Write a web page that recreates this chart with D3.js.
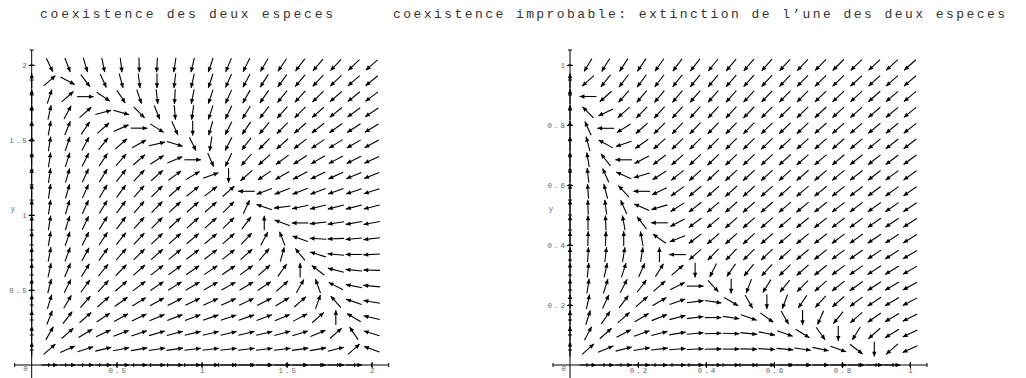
<!DOCTYPE html>
<html>
<head>
<meta charset="utf-8">
<script src="https://cdn.jsdelivr.net/npm/d3@7"></script>
<style>
  html, body { margin: 0; padding: 0; background: #fff; }
  svg { display: block; }
  .title { font-family: "Liberation Mono", "DejaVu Sans Mono", monospace; font-size: 13px; fill: #333; }
  .lbl { font-family: "Liberation Mono", "DejaVu Sans Mono", monospace; font-size: 7.5px; letter-spacing: 2px; fill: #666; }
</style>
</head>
<body>
<svg id="chart"></svg>
<script>
// titres
const titles = [
  'coexistence des deux especes',
  'coexistence improbable: extinction de l\u2019une des deux especes'
];

// points de grille (20 x 20) lus sur chaque graphe
const leftGrid = [0, 0.105, 0.211, 0.316, 0.421, 0.526, 0.632, 0.737, 0.842, 0.947,
  1.053, 1.158, 1.263, 1.368, 1.474, 1.579, 1.684, 1.789, 1.895, 2];
const rightGrid = [0, 0.053, 0.105, 0.158, 0.211, 0.263, 0.316, 0.368, 0.421, 0.474,
  0.526, 0.579, 0.632, 0.684, 0.737, 0.789, 0.842, 0.895, 0.947, 1];

// graduations
const leftTicks = [0.5, 1, 1.5, 2];
const rightTicks = [0.2, 0.4, 0.6, 0.8, 1];

// champ gauche: composantes (dx, dy) de chaque fleche, une ligne par rangee y (de bas en haut)
const leftU = [
  [0,54,102,144,180,210,234,252,264,270,270,264,252,234,210,180,144,102,54,0],
  [0,52,98,138,172,200,222,238,248,252,250,242,228,208,182,150,112,68,18,-38],
  [0,50,94,132,164,190,210,224,232,234,230,220,204,182,154,120,80,34,-18,-76],
  [0,48,90,126,156,180,198,210,216,216,210,198,180,156,126,90,48,0,-54,-114],
  [0,46,86,120,148,170,186,196,200,198,190,176,156,130,98,60,16,-34,-90,-152],
  [0,44,82,114,140,160,174,182,184,180,170,154,132,104,70,30,-16,-68,-126,-190],
  [0,42,78,108,132,150,162,168,168,162,150,132,108,78,42,0,-48,-102,-162,-228],
  [0,40,74,102,124,140,150,154,152,144,130,110,84,52,14,-30,-80,-136,-198,-266],
  [0,38,70,96,116,130,138,140,136,126,110,88,60,26,-14,-60,-112,-170,-234,-304],
  [0,36,66,90,108,120,126,126,120,108,90,66,36,0,-42,-90,-144,-204,-270,-342],
  [0,34,62,84,100,110,114,112,104,90,70,44,12,-26,-70,-120,-176,-238,-306,-380],
  [0,32,58,78,92,100,102,98,88,72,50,22,-12,-52,-98,-150,-208,-272,-342,-418],
  [0,30,54,72,84,90,90,84,72,54,30,0,-36,-78,-126,-180,-240,-306,-378,-456],
  [0,28,50,66,76,80,78,70,56,36,10,-22,-60,-104,-154,-210,-272,-340,-414,-494],
  [0,26,46,60,68,70,66,56,40,18,-10,-44,-84,-130,-182,-240,-304,-374,-450,-532],
  [0,24,42,54,60,60,54,42,24,0,-30,-66,-108,-156,-210,-270,-336,-408,-486,-570],
  [0,22,38,48,52,50,42,28,8,-18,-50,-88,-132,-182,-238,-300,-368,-442,-522,-608],
  [0,20,34,42,44,40,30,14,-8,-36,-70,-110,-156,-208,-266,-330,-400,-476,-558,-646],
  [0,18,30,36,36,30,18,0,-24,-54,-90,-132,-180,-234,-294,-360,-432,-510,-594,-684],
  [0,16,26,30,28,20,6,-14,-40,-72,-110,-154,-204,-260,-322,-390,-464,-544,-630,-722]
];
const leftV = [
  [0,0,0,0,0,0,0,0,0,0,0,0,0,0,0,0,0,0,0,0],
  [54,52,50,48,46,44,42,40,38,36,34,32,30,28,26,24,22,20,18,16],
  [102,98,94,90,86,82,78,74,70,66,62,58,54,50,46,42,38,34,30,26],
  [144,138,132,126,120,114,108,102,96,90,84,78,72,66,60,54,48,42,36,30],
  [180,172,164,156,148,140,132,124,116,108,100,92,84,76,68,60,52,44,36,28],
  [210,200,190,180,170,160,150,140,130,120,110,100,90,80,70,60,50,40,30,20],
  [234,222,210,198,186,174,162,150,138,126,114,102,90,78,66,54,42,30,18,6],
  [252,238,224,210,196,182,168,154,140,126,112,98,84,70,56,42,28,14,0,-14],
  [264,248,232,216,200,184,168,152,136,120,104,88,72,56,40,24,8,-8,-24,-40],
  [270,252,234,216,198,180,162,144,126,108,90,72,54,36,18,0,-18,-36,-54,-72],
  [270,250,230,210,190,170,150,130,110,90,70,50,30,10,-10,-30,-50,-70,-90,-110],
  [264,242,220,198,176,154,132,110,88,66,44,22,0,-22,-44,-66,-88,-110,-132,-154],
  [252,228,204,180,156,132,108,84,60,36,12,-12,-36,-60,-84,-108,-132,-156,-180,-204],
  [234,208,182,156,130,104,78,52,26,0,-26,-52,-78,-104,-130,-156,-182,-208,-234,-260],
  [210,182,154,126,98,70,42,14,-14,-42,-70,-98,-126,-154,-182,-210,-238,-266,-294,-322],
  [180,150,120,90,60,30,0,-30,-60,-90,-120,-150,-180,-210,-240,-270,-300,-330,-360,-390],
  [144,112,80,48,16,-16,-48,-80,-112,-144,-176,-208,-240,-272,-304,-336,-368,-400,-432,-464],
  [102,68,34,0,-34,-68,-102,-136,-170,-204,-238,-272,-306,-340,-374,-408,-442,-476,-510,-544],
  [54,18,-18,-54,-90,-126,-162,-198,-234,-270,-306,-342,-378,-414,-450,-486,-522,-558,-594,-630],
  [0,-38,-76,-114,-152,-190,-228,-266,-304,-342,-380,-418,-456,-494,-532,-570,-608,-646,-684,-722]
];

// champ droit
const rightU = [
  [0,18,34,48,60,70,78,84,88,90,90,88,84,78,70,60,48,34,18,0],
  [0,16,30,42,52,60,66,70,72,72,70,66,60,52,42,30,16,0,-18,-38],
  [0,14,26,36,44,50,54,56,56,54,50,44,36,26,14,0,-16,-34,-54,-76],
  [0,12,22,30,36,40,42,42,40,36,30,22,12,0,-14,-30,-48,-68,-90,-114],
  [0,10,18,24,28,30,30,28,24,18,10,0,-12,-26,-42,-60,-80,-102,-126,-152],
  [0,8,14,18,20,20,18,14,8,0,-10,-22,-36,-52,-70,-90,-112,-136,-162,-190],
  [0,6,10,12,12,10,6,0,-8,-18,-30,-44,-60,-78,-98,-120,-144,-170,-198,-228],
  [0,4,6,6,4,0,-6,-14,-24,-36,-50,-66,-84,-104,-126,-150,-176,-204,-234,-266],
  [0,2,2,0,-4,-10,-18,-28,-40,-54,-70,-88,-108,-130,-154,-180,-208,-238,-270,-304],
  [0,0,-2,-6,-12,-20,-30,-42,-56,-72,-90,-110,-132,-156,-182,-210,-240,-272,-306,-342],
  [0,-2,-6,-12,-20,-30,-42,-56,-72,-90,-110,-132,-156,-182,-210,-240,-272,-306,-342,-380],
  [0,-4,-10,-18,-28,-40,-54,-70,-88,-108,-130,-154,-180,-208,-238,-270,-304,-340,-378,-418],
  [0,-6,-14,-24,-36,-50,-66,-84,-104,-126,-150,-176,-204,-234,-266,-300,-336,-374,-414,-456],
  [0,-8,-18,-30,-44,-60,-78,-98,-120,-144,-170,-198,-228,-260,-294,-330,-368,-408,-450,-494],
  [0,-10,-22,-36,-52,-70,-90,-112,-136,-162,-190,-220,-252,-286,-322,-360,-400,-442,-486,-532],
  [0,-12,-26,-42,-60,-80,-102,-126,-152,-180,-210,-242,-276,-312,-350,-390,-432,-476,-522,-570],
  [0,-14,-30,-48,-68,-90,-114,-140,-168,-198,-230,-264,-300,-338,-378,-420,-464,-510,-558,-608],
  [0,-16,-34,-54,-76,-100,-126,-154,-184,-216,-250,-286,-324,-364,-406,-450,-496,-544,-594,-646],
  [0,-18,-38,-60,-84,-110,-138,-168,-200,-234,-270,-308,-348,-390,-434,-480,-528,-578,-630,-684],
  [0,-20,-42,-66,-92,-120,-150,-182,-216,-252,-290,-330,-372,-416,-462,-510,-560,-612,-666,-722]
];
const rightV = [
  [0,0,0,0,0,0,0,0,0,0,0,0,0,0,0,0,0,0,0,0],
  [18,16,14,12,10,8,6,4,2,0,-2,-4,-6,-8,-10,-12,-14,-16,-18,-20],
  [34,30,26,22,18,14,10,6,2,-2,-6,-10,-14,-18,-22,-26,-30,-34,-38,-42],
  [48,42,36,30,24,18,12,6,0,-6,-12,-18,-24,-30,-36,-42,-48,-54,-60,-66],
  [60,52,44,36,28,20,12,4,-4,-12,-20,-28,-36,-44,-52,-60,-68,-76,-84,-92],
  [70,60,50,40,30,20,10,0,-10,-20,-30,-40,-50,-60,-70,-80,-90,-100,-110,-120],
  [78,66,54,42,30,18,6,-6,-18,-30,-42,-54,-66,-78,-90,-102,-114,-126,-138,-150],
  [84,70,56,42,28,14,0,-14,-28,-42,-56,-70,-84,-98,-112,-126,-140,-154,-168,-182],
  [88,72,56,40,24,8,-8,-24,-40,-56,-72,-88,-104,-120,-136,-152,-168,-184,-200,-216],
  [90,72,54,36,18,0,-18,-36,-54,-72,-90,-108,-126,-144,-162,-180,-198,-216,-234,-252],
  [90,70,50,30,10,-10,-30,-50,-70,-90,-110,-130,-150,-170,-190,-210,-230,-250,-270,-290],
  [88,66,44,22,0,-22,-44,-66,-88,-110,-132,-154,-176,-198,-220,-242,-264,-286,-308,-330],
  [84,60,36,12,-12,-36,-60,-84,-108,-132,-156,-180,-204,-228,-252,-276,-300,-324,-348,-372],
  [78,52,26,0,-26,-52,-78,-104,-130,-156,-182,-208,-234,-260,-286,-312,-338,-364,-390,-416],
  [70,42,14,-14,-42,-70,-98,-126,-154,-182,-210,-238,-266,-294,-322,-350,-378,-406,-434,-462],
  [60,30,0,-30,-60,-90,-120,-150,-180,-210,-240,-270,-300,-330,-360,-390,-420,-450,-480,-510],
  [48,16,-16,-48,-80,-112,-144,-176,-208,-240,-272,-304,-336,-368,-400,-432,-464,-496,-528,-560],
  [34,0,-34,-68,-102,-136,-170,-204,-238,-272,-306,-340,-374,-408,-442,-476,-510,-544,-578,-612],
  [18,-18,-54,-90,-126,-162,-198,-234,-270,-306,-342,-378,-414,-450,-486,-522,-558,-594,-630,-666],
  [0,-38,-76,-114,-152,-190,-228,-266,-304,-342,-380,-418,-456,-494,-532,-570,-608,-646,-684,-722]
];

/* constantes de mise en page */
const SVG_WIDTH = 1026;
const SVG_HEIGHT = 378;
const ARROW_K = 0.93;   // longueur de fleche / pas de grille
const HEAD_LEN = 4.8;
const HEAD_W = 2.2;

const svg = d3.select('#chart').attr('width', SVG_WIDTH).attr('height', SVG_HEIGHT);

// titres (largeur mesuree sur l'image)
svg.append('text').attr('class', 'title').attr('x', 40).attr('y', 18)
  .attr('textLength', 293).attr('lengthAdjust', 'spacing').text(titles[0]);
svg.append('text').attr('class', 'title').attr('x', 393).attr('y', 18)
  .attr('textLength', 612).attr('lengthAdjust', 'spacing').text(titles[1]);

const panels = [
  { grid: leftGrid, U: leftU, V: leftV, ticks: leftTicks, max: 2, xRange: [31.7, 371.7], minorStep: 0.1 },
  { grid: rightGrid, U: rightU, V: rightV, ticks: rightTicks, max: 1, xRange: [570, 910], minorStep: 0.05 }
];

panels.forEach(drawPanel);

function drawPanel(p) {
  const x = d3.scaleLinear().domain([0, p.max]).range(p.xRange);
  const y = d3.scaleLinear().domain([0, p.max]).range([365, 65]);
  const g = svg.append('g');
  const lo = -p.minorStep, hi = p.max + p.minorStep;

  // axes passant par l'origine
  g.append('line').attr('x1', x(lo)).attr('x2', x(hi)).attr('y1', y(0)).attr('y2', y(0))
    .attr('stroke', '#000').attr('stroke-width', 1);
  g.append('line').attr('x1', x(0)).attr('x2', x(0)).attr('y1', y(lo)).attr('y2', y(hi))
    .attr('stroke', '#000').attr('stroke-width', 1);

  // petites graduations
  const minor = d3.range(Math.round(lo / p.minorStep), Math.round(hi / p.minorStep) + 1)
    .map(k => k * p.minorStep).filter(v => Math.abs(v) > 1e-9);
  g.selectAll('.mx').data(minor).enter().append('line')
    .attr('x1', d => x(d)).attr('x2', d => x(d)).attr('y1', y(0) - 2).attr('y2', y(0) + 2)
    .attr('stroke', '#000');
  g.selectAll('.my').data(minor).enter().append('line')
    .attr('y1', d => y(d)).attr('y2', d => y(d)).attr('x1', x(0) - 2).attr('x2', x(0) + 2)
    .attr('stroke', '#000');

  // axe x (graduations principales + etiquettes)
  const gx = g.append('g').attr('transform', `translate(0,${y(0)})`)
    .call(d3.axisBottom(x).tickValues(p.ticks).tickSize(3).tickFormat(d => String(d)));
  gx.select('.domain').remove();
  gx.selectAll('.tick line').attr('y1', -3).attr('stroke', '#000');
  gx.selectAll('.tick text').attr('class', 'lbl').attr('y', 8).attr('dy', 0).attr('dx', 1)
    .attr('font-size', null).attr('font-family', null).attr('fill', null);

  // axe y
  const gy = g.append('g').attr('transform', `translate(${x(0)},0)`)
    .call(d3.axisLeft(y).tickValues(p.ticks).tickSize(3).tickFormat(d => String(d)));
  gy.select('.domain').remove();
  gy.selectAll('.tick line').attr('x1', 3).attr('stroke', '#000');
  gy.selectAll('.tick text').attr('class', 'lbl').attr('x', -3).attr('dy', '0.32em')
    .attr('font-size', null).attr('font-family', null).attr('fill', null);

  // "0" a l'origine et nom de l'axe
  g.append('text').attr('class', 'lbl').attr('text-anchor', 'end')
    .attr('x', x(0) - 2).attr('y', y(0) + 5.5).text('0');
  g.append('text').attr('class', 'lbl').attr('text-anchor', 'middle')
    .attr('x', x(0) - 18).attr('y', y(p.max * 0.52) + 2).text('y');

  // fleches du champ de directions
  const hx = x(p.grid[1]) - x(p.grid[0]);
  const hy = y(p.grid[0]) - y(p.grid[1]);
  const arrows = [];
  p.V.forEach((row, j) => row.forEach((v, i) => {
    const u = p.U[j][i];
    const m = Math.hypot(u, v);
    if (m === 0) return;
    const dx = ARROW_K * hx * (u / m) / 2;
    const dy = -ARROW_K * hy * (v / m) / 2;
    const cx = x(p.grid[i]), cy = y(p.grid[j]);
    arrows.push({ x1: cx - dx, y1: cy - dy, x2: cx + dx, y2: cy + dy });
  }));

  const ga = g.append('g');
  ga.selectAll('line').data(arrows).enter().append('line')
    .attr('x1', d => d.x1).attr('y1', d => d.y1).attr('x2', d => d.x2).attr('y2', d => d.y2)
    .attr('stroke', '#000').attr('stroke-width', 1.1);
  ga.selectAll('path').data(arrows).enter().append('path')
    .attr('fill', '#000')
    .attr('d', d => {
      const L = Math.hypot(d.x2 - d.x1, d.y2 - d.y1);
      const ex = (d.x2 - d.x1) / L, ey = (d.y2 - d.y1) / L;
      const bx = d.x2 - HEAD_LEN * ex, by = d.y2 - HEAD_LEN * ey;
      return `M${d.x2},${d.y2}L${bx - HEAD_W * ey},${by + HEAD_W * ex}L${bx + HEAD_W * ey},${by - HEAD_W * ex}Z`;
    });
}
</script>
</body>
</html>
